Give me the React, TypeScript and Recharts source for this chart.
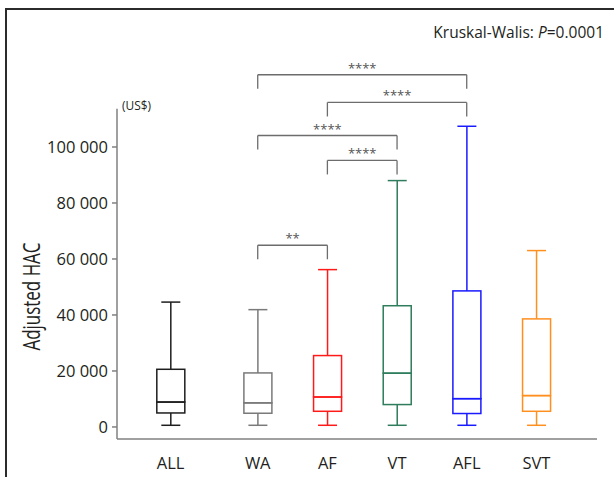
import { ComposedChart, Bar, XAxis, YAxis, ReferenceLine } from "recharts";

const categories = ["ALL", "WA", "AF", "VT", "AFL", "SVT"];
const minValues = [600, 600, 600, 600, 600, 600];
const q1Values = [5000, 4900, 5600, 8000, 4800, 5600];
const medianValues = [8900, 8600, 10700, 19200, 10100, 11200];
const q3Values = [20600, 19300, 25500, 43300, 48600, 38600];
const maxValues = [44600, 41900, 56200, 88000, 107400, 63000];
const yTicks = [0, 20000, 40000, 60000, 80000, 100000];

// significance brackets between groups
const pairFrom = ["WA", "AF", "WA", "AF", "WA"];
const pairTo = ["AFL", "AFL", "VT", "VT", "AF"];
const pairLevel = [125800, 115900, 104100, 95200, 64900];
const pairStars = ["****", "****", "****", "****", "**"];

// layout: where each group sits on the numeric x axis (ALL is set apart)
const slots = [0, 1.25, 2.25, 3.25, 4.25, 5.25];
const colors = ["#1e1e1e", "#7a7a7a", "#ff1a1a", "#2f7d5c", "#1a1aff", "#ff9020"];

const FONT = "'Open Sans', sans-serif";
const TEXT = "#231f20";
const AXIS = "#808080";
const BRACKET = "#6d6d6d";
const X_DOMAIN: [number, number] = [-0.77, 6.12];
const Y_DOMAIN: [number, number] = [-4300, 135000];
const DROP = 5000;

const rows = categories.map((name, i) => ({
  name,
  pos: slots[i],
  base: minValues[i],
  lowWhisker: q1Values[i] - minValues[i],
  lowBox: medianValues[i] - q1Values[i],
  highBox: q3Values[i] - medianValues[i],
  highWhisker: maxValues[i] - q3Values[i],
}));

const colorOf = (p: any) => colors[categories.indexOf(p.payload?.name ?? p.name)] || "#000";
const slotOf = (name: string) => slots[categories.indexOf(name)];
const fmt = (v: number) => (v >= 1000 ? `${Math.floor(v / 1000)} ${String(v % 1000).padStart(3, "0")}` : String(v));

const whisker = (atTop: boolean) => (p: any) => {
  const c = colorOf(p);
  const cx = p.x + p.width / 2;
  const cap = atTop ? p.y : p.y + p.height;
  return (
    <g>
      <line x1={cx} x2={cx} y1={p.y} y2={p.y + p.height} stroke={c} strokeWidth={1.5} />
      <line x1={cx - 9.5} x2={cx + 9.5} y1={cap} y2={cap} stroke={c} strokeWidth={1.5} />
    </g>
  );
};

const boxPart = (p: any) => (
  <rect x={p.x} y={p.y} width={p.width} height={p.height} fill="none" stroke={colorOf(p)} strokeWidth={1.5} />
);

const nothing = () => <g />;

export default function App() {
  return (
    <div style={{ position: "absolute", left: 0, top: 0, width: 614, height: 477, overflow: "hidden", background: "#fff" }}>
      <div
        style={{
          position: "absolute",
          left: 5,
          top: 8,
          width: 700,
          height: 600,
          borderLeft: "2.5px solid #2b2b2b",
          borderTop: "2.5px solid #2b2b2b",
        }}
      />
      <div style={{ position: "absolute", left: 0, top: 0 }}>
        <ComposedChart width={614} height={477} data={rows} margin={{ top: 49, right: 17, bottom: 8, left: 57 }}>
          <XAxis
            type="number"
            dataKey="pos"
            domain={X_DOMAIN}
            allowDataOverflow
            ticks={slots}
            interval={0}
            tickFormatter={(v: number) => categories[slots.indexOf(v)]}
            height={30}
            axisLine={{ stroke: AXIS, strokeWidth: 1.5 }}
            tickLine={false}
            tickSize={6}
            tickMargin={12}
            tick={{ fill: TEXT, fontSize: 16.5, fontFamily: FONT }}
          />
          <YAxis
            type="number"
            domain={Y_DOMAIN}
            allowDataOverflow
            ticks={yTicks}
            interval={0}
            width={60}
            axisLine={false}
            tickLine={{ stroke: AXIS, strokeWidth: 1.5 }}
            tickSize={5}
            tickMargin={4}
            tickFormatter={fmt}
            tick={{ fill: TEXT, fontSize: 16.5, fontFamily: FONT }}
          />
          <ReferenceLine
            segment={[{ x: X_DOMAIN[0], y: Y_DOMAIN[0] }, { x: X_DOMAIN[0], y: 113700 }]}
            stroke={AXIS}
            strokeWidth={1.5}
            ifOverflow="visible"
          />
          <Bar dataKey="base" stackId="box" barSize={28} shape={nothing} isAnimationActive={false} />
          <Bar dataKey="lowWhisker" stackId="box" barSize={28} shape={whisker(false)} isAnimationActive={false} />
          <Bar dataKey="lowBox" stackId="box" barSize={28} shape={boxPart} isAnimationActive={false} />
          <Bar dataKey="highBox" stackId="box" barSize={28} shape={boxPart} isAnimationActive={false} />
          <Bar dataKey="highWhisker" stackId="box" barSize={28} shape={whisker(true)} isAnimationActive={false} />
          {pairFrom.map((from, i) => {
            const a = slotOf(from);
            const b = slotOf(pairTo[i]);
            const lv = pairLevel[i];
            return [
              <ReferenceLine
                key={`h${i}`}
                segment={[{ x: a, y: lv }, { x: b, y: lv }]}
                stroke={BRACKET}
                strokeWidth={1.3}
                ifOverflow="visible"
                label={{ value: pairStars[i], position: "top", offset: 2, fill: "#555", fontSize: 13, fontFamily: FONT }}
              />,
              <ReferenceLine
                key={`l${i}`}
                segment={[{ x: a, y: lv }, { x: a, y: lv - DROP }]}
                stroke={BRACKET}
                strokeWidth={1.3}
                ifOverflow="visible"
              />,
              <ReferenceLine
                key={`r${i}`}
                segment={[{ x: b, y: lv }, { x: b, y: lv - DROP }]}
                stroke={BRACKET}
                strokeWidth={1.3}
                ifOverflow="visible"
              />,
            ];
          })}
        </ComposedChart>
      </div>
      <svg width={614} height={477} style={{ position: "absolute", left: 0, top: 0, pointerEvents: "none" }}>
        <text
          transform="translate(40, 296.5) rotate(-90)"
          textAnchor="middle"
          fontSize={23}
          fontFamily={FONT}
          fill={TEXT}
          textLength={108}
          lengthAdjust="spacingAndGlyphs"
        >
          Adjusted HAC
        </text>
        <text x={604} y={38} textAnchor="end" fontSize={15.5} fontFamily={FONT} fill={TEXT}>
          Kruskal-Walis: <tspan fontStyle="italic">P</tspan>=0.0001
        </text>
        <text x={122} y={110} fontSize={13.5} fontFamily={FONT} fill={TEXT} textLength={29} lengthAdjust="spacingAndGlyphs">
          (US$)
        </text>
      </svg>
    </div>
  );
}
